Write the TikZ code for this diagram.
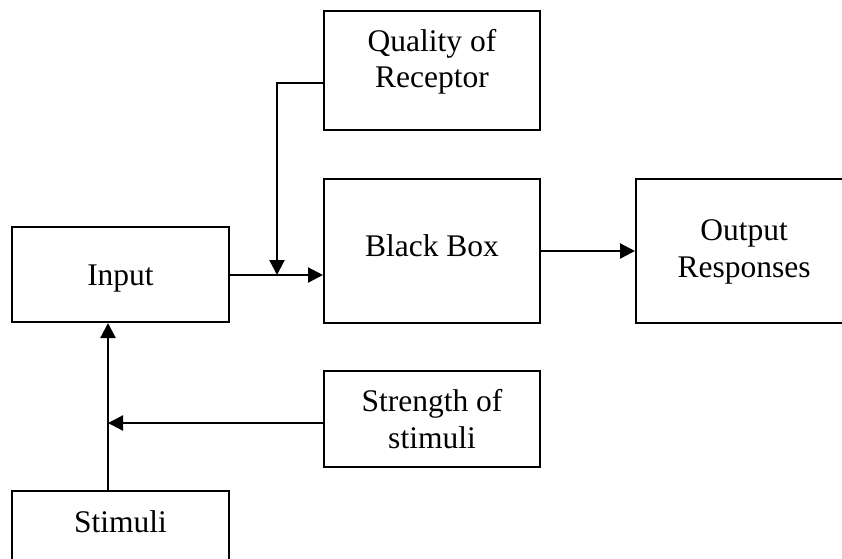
\documentclass[tikz,border=0pt]{standalone}
\usepackage{fontspec}
\setmainfont{Liberation Serif}
\usetikzlibrary{arrows.meta}
\begin{document}
\begin{tikzpicture}[x=1pt,y=-1pt,
  box/.style={draw,line width=2pt,inner sep=0pt,minimum width=216pt},
  lbl/.style={anchor=base,inner sep=0pt,font=\fontsize{31.5}{37}\selectfont},
  arr/.style={line width=2.2pt,-{Triangle[length=15pt,width=15pt]}}]
\useasboundingbox (0,0) rectangle (842,558);
\clip (0,0) rectangle (842,558);
% boxes
\node[box,minimum height=119pt] (qual)  at (432,70.5)  {};
\node[box,minimum height=144pt] (black) at (432,251)   {};
\node[box,minimum height=144pt] (out)   at (744,251)   {};
\node[box,minimum width=217pt,minimum height=95pt]  (input) at (120.5,274.5) {};
\node[box,minimum height=96pt]  (str)   at (432,419)   {};
\node[box,minimum width=217pt,minimum height=104pt] (stim)  at (120.5,543)   {};
% labels
\node[lbl] (qual1)  at (432,51.5)  {Quality of};
\node[lbl] (qual2)  at (432,87.5)  {Receptor};
\node[lbl] (blackl) at (432,256.5) {Black Box};
\node[lbl] (out1)   at (744,240)   {Output};
\node[lbl] (out2)   at (744,277)   {Responses};
\node[lbl] (inputl) at (120.5,285) {Input};
\node[lbl] (str1)   at (432,411)   {Strength of};
\node[lbl] (str2)   at (432,448)   {stimuli};
\node[lbl] (stiml)  at (120.5,532) {Stimuli};
% connector points
\coordinate (qin) at (324,83);
\coordinate (j)   at (277,275);
\coordinate (sin) at (324,423);
\coordinate (k)   at (108,423);
% connectors
\draw[arr] (input.east |- j) -- (black.west |- j);
\draw[arr] (qin) -| (j);
\draw[arr] (black.east) -- (out.west);
\draw[arr] (sin) -- (k);
\draw[arr] (stim.north -| k) -- (input.south -| k);
\end{tikzpicture}
\end{document}
